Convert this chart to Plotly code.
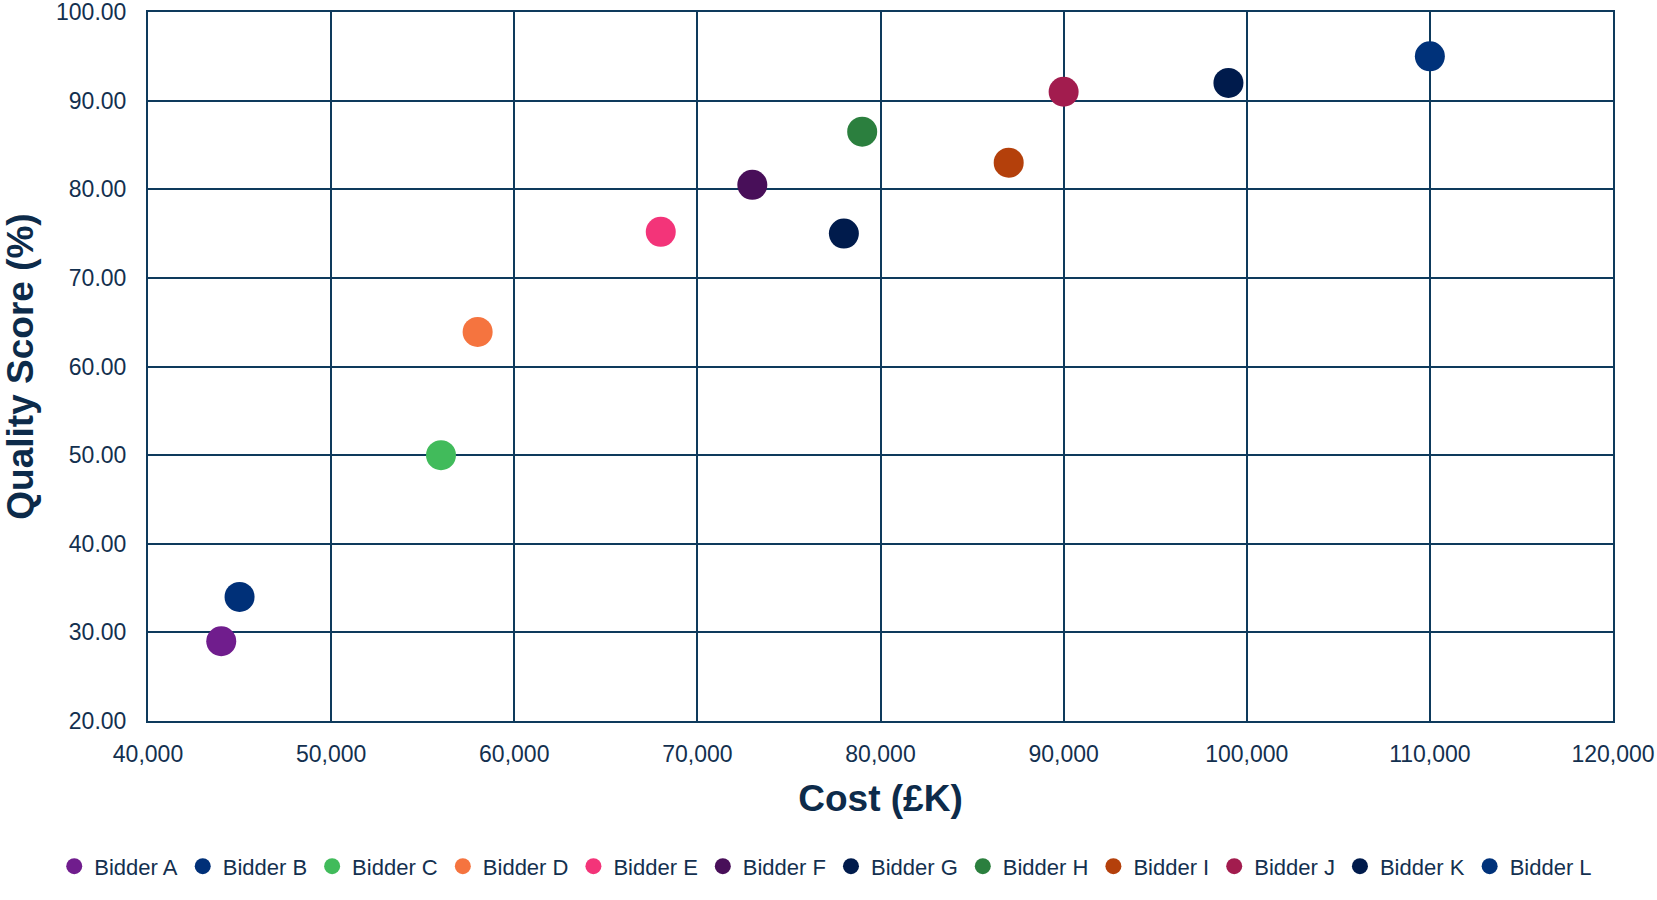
import plotly.graph_objects as go

# Bidder cost (£K) vs quality score (%)
bidders = ["Bidder A", "Bidder B", "Bidder C", "Bidder D", "Bidder E", "Bidder F",
           "Bidder G", "Bidder H", "Bidder I", "Bidder J", "Bidder K", "Bidder L"]
cost = [44000, 45000, 56000, 58000, 68000, 73000, 78000, 79000, 87000, 90000, 99000, 110000]
quality = [29.0, 34.0, 50.0, 63.9, 75.2, 80.5, 75.0, 86.5, 83.0, 91.0, 92.0, 95.0]
colors = ["#701D8D", "#003078", "#41BB5B", "#F5743F", "#F33479", "#480F59",
          "#001B4C", "#2B7F3E", "#B4400B", "#A21C4E", "#001B4C", "#00327A"]

x_ticks = [40000, 50000, 60000, 70000, 80000, 90000, 100000, 110000, 120000]
y_ticks = [20, 30, 40, 50, 60, 70, 80, 90, 100]

FONT = "Arial, 'Liberation Sans', sans-serif"
TEXT = "#13304F"
GRID = "#0E3A5C"

fig = go.Figure()
for name, x, y, c in zip(bidders, cost, quality, colors):
    fig.add_trace(go.Scatter(
        x=[x], y=[y], mode="markers", name=name,
        marker=dict(size=30, color=c, line=dict(width=0)),
    ))

fig.update_layout(
    width=1657, height=900,
    margin=dict(l=148, r=44, t=12, b=179),
    paper_bgcolor="white", plot_bgcolor="white",
    font=dict(family=FONT, color=TEXT, size=20),
    showlegend=True,
    legend=dict(
        orientation="h", xref="paper", yref="paper",
        x=-0.064, xanchor="left", y=-0.205, yanchor="middle",
        font=dict(size=22, color=TEXT), itemsizing="trace",
        itemwidth=30, tracegroupgap=0,
    ),
    xaxis=dict(
        range=[40000, 120000], tickvals=x_ticks, tickformat=",",
        showgrid=True, gridcolor=GRID, gridwidth=2,
        showline=True, linecolor=GRID, linewidth=2, mirror=True,
        zeroline=False, ticks="", ticklabelstandoff=11, automargin=False,
        ticklabeloverflow="allow",
        tickfont=dict(size=23, color=TEXT),
        title=dict(text="<b>Cost (£K)</b>", font=dict(size=37, color="#0D2B4A"), standoff=20),
    ),
    yaxis=dict(
        range=[20, 100], tickvals=y_ticks, tickformat=".2f",
        showgrid=True, gridcolor=GRID, gridwidth=2,
        showline=True, linecolor=GRID, linewidth=2, mirror=True,
        zeroline=False, ticks="", ticklabelstandoff=15, automargin=False,
        ticklabeloverflow="allow",
        tickfont=dict(size=23, color=TEXT),
        title=dict(text="<b>Quality Score (%)</b>", font=dict(size=37, color="#0D2B4A"), standoff=20),
    ),
)

fig.write_html("out.html")
